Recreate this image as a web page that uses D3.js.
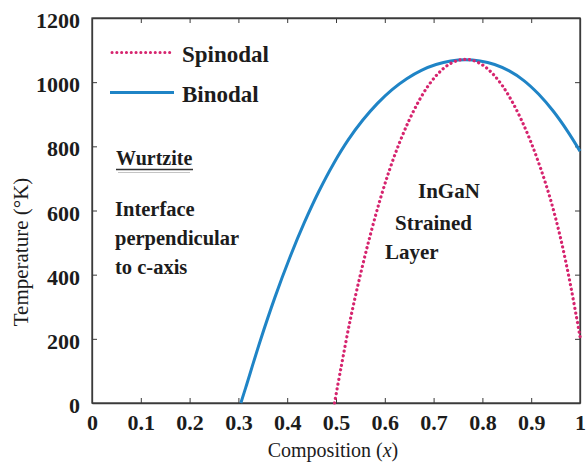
<!DOCTYPE html>
<html>
<head>
<meta charset="utf-8">
<script src="https://cdn.jsdelivr.net/npm/d3@7"></script>
<style>
  html, body { margin: 0; padding: 0; background: #ffffff; }
  svg { display: block; }
</style>
</head>
<body>
<svg id="chart" width="586" height="468"></svg>
<script>
// ---- data ----
const xTicks = [0, 0.1, 0.2, 0.3, 0.4, 0.5, 0.6, 0.7, 0.8, 0.9, 1];
const xTickLabels = ["0", "0.1", "0.2", "0.3", "0.4", "0.5", "0.6", "0.7", "0.8", "0.9", "1"];
const yTicks = [0, 200, 400, 600, 800, 1000, 1200];
const yTickLabels = ["0", "200", "400", "600", "800", "1000", "1200"];

const binodalX = [0.305, 0.315, 0.345, 0.375, 0.405, 0.435, 0.465, 0.495, 0.525, 0.555, 0.585, 0.615, 0.645, 0.675, 0.705, 0.735, 0.765, 0.795, 0.825, 0.855, 0.885, 0.915, 0.945, 0.975, 1.0];
const binodalT = [0, 48, 195, 330, 452, 562, 660, 746, 820, 882, 934, 977, 1011, 1037, 1055, 1066, 1070, 1066, 1055, 1035, 1005, 963, 910, 846, 785];

const spinodalX = [0.497, 0.51, 0.53, 0.55, 0.57, 0.59, 0.61, 0.63, 0.65, 0.67, 0.69, 0.71, 0.73, 0.75, 0.765, 0.78, 0.80, 0.82, 0.84, 0.86, 0.88, 0.90, 0.92, 0.94, 0.96, 0.98, 1.0];
const spinodalT = [0, 108, 265, 400, 522, 632, 728, 811, 882, 942, 991, 1028, 1054, 1068, 1071, 1068, 1054, 1028, 991, 942, 882, 811, 728, 632, 515, 372, 207];

const seriesNames = ["Spinodal", "Binodal"];
const xTitle = "Composition (";
const xTitleVar = "x";
const yTitle = "Temperature (°K)";
const noteLeft = ["Interface", "perpendicular", "to c-axis"];
const noteLeftTitle = "Wurtzite";
const noteRight = ["InGaN", "Strained", "Layer"];

// ---- layout ----
const svg = d3.select("#chart");
const L = 92, R = 580, T = 18, B = 403;
const FONT = "'Liberation Serif', 'Times New Roman', serif";
const INK = "#1c1c1c";
const AX = "#3a3a3a";
const SPIN = "#d6246e";
const BIN = "#1f84c6";

const x = d3.scaleLinear().domain([0, 1]).range([L, R]);
const y = d3.scaleLinear().domain([0, 1200]).range([B, T]);

// frame
svg.append("rect")
  .attr("x", L).attr("y", T).attr("width", R - L).attr("height", B - T)
  .attr("fill", "none").attr("stroke", AX).attr("stroke-width", 1.3);

// axes (ticks inward)
const gx = svg.append("g").attr("transform", `translate(0,${B})`)
  .call(d3.axisBottom(x).tickValues(xTicks).tickSizeInner(-5).tickSizeOuter(0)
    .tickFormat((d, i) => xTickLabels[i]));
gx.selectAll("text").attr("y", 27).attr("dy", 0)
  .attr("font-family", FONT).attr("font-size", 22).attr("font-weight", "bold").attr("fill", INK);

const gy = svg.append("g").attr("transform", `translate(${L},0)`)
  .call(d3.axisLeft(y).tickValues(yTicks).tickSizeInner(-5).tickSizeOuter(0)
    .tickFormat((d, i) => yTickLabels[i]));
gy.selectAll("text").attr("x", -12).attr("dy", 9.5)
  .attr("font-family", FONT).attr("font-size", 22).attr("font-weight", "bold").attr("fill", INK);

const gt = svg.append("g").attr("transform", `translate(0,${T})`)
  .call(d3.axisTop(x).tickValues(xTicks).tickSizeInner(-5).tickSizeOuter(0).tickFormat(""));
const gr = svg.append("g").attr("transform", `translate(${R},0)`)
  .call(d3.axisRight(y).tickValues(yTicks).tickSizeInner(-5).tickSizeOuter(0).tickFormat(""));

[gx, gy, gt, gr].forEach(g => {
  g.select(".domain").attr("stroke", AX).attr("stroke-width", 1.3);
  g.selectAll(".tick line").attr("stroke", AX).attr("stroke-width", 1);
});

// curves
const line = d3.line().x(d => x(d[0])).y(d => y(d[1])).curve(d3.curveCatmullRom.alpha(0.5));
const binodal = binodalX.map((v, i) => [v, binodalT[i]]);
const spinodal = spinodalX.map((v, i) => [v, spinodalT[i]]);

svg.append("path").datum(binodal).attr("d", line)
  .attr("fill", "none").attr("stroke", BIN).attr("stroke-width", 3);
svg.append("path").datum(spinodal).attr("d", line)
  .attr("fill", "none").attr("stroke", SPIN).attr("stroke-width", 3.2)
  .attr("stroke-linecap", "round").attr("stroke-dasharray", "0.1 4.7");

// legend
svg.append("line").attr("x1", 112).attr("x2", 173).attr("y1", 52.5).attr("y2", 52.5)
  .attr("stroke", SPIN).attr("stroke-width", 3).attr("stroke-linecap", "round")
  .attr("stroke-dasharray", "0.1 4.7");
svg.append("line").attr("x1", 110).attr("x2", 174).attr("y1", 92.5).attr("y2", 92.5)
  .attr("stroke", BIN).attr("stroke-width", 3);
svg.append("text").attr("x", 182).attr("y", 62).text(seriesNames[0])
  .attr("font-family", FONT).attr("font-size", 23).attr("font-weight", "bold").attr("fill", INK);
svg.append("text").attr("x", 182).attr("y", 102).text(seriesNames[1])
  .attr("font-family", FONT).attr("font-size", 23).attr("font-weight", "bold").attr("fill", INK);

// annotations
svg.append("text").attr("x", 116).attr("y", 165).text(noteLeftTitle)
  .attr("font-family", FONT).attr("font-size", 20).attr("font-weight", "bold").attr("fill", INK);
svg.append("line").attr("x1", 116).attr("x2", 193).attr("y1", 169.5).attr("y2", 169.5)
  .attr("stroke", "#333").attr("stroke-width", 1.5);
svg.append("line").attr("x1", 118).attr("x2", 190).attr("y1", 172.5).attr("y2", 172.5)
  .attr("stroke", "#c4c4c4").attr("stroke-width", 1);

noteLeft.forEach((t, i) => {
  svg.append("text").attr("x", 115).attr("y", 216 + i * 29).text(t)
    .attr("font-family", FONT).attr("font-size", 20.5).attr("font-weight", "bold").attr("fill", INK);
});
const noteRightX = [418, 395, 385];
const noteRightY = [198, 230, 259];
noteRight.forEach((t, i) => {
  svg.append("text").attr("x", noteRightX[i]).attr("y", noteRightY[i]).text(t)
    .attr("font-family", FONT).attr("font-size", 21).attr("font-weight", "bold").attr("fill", INK);
});

// axis titles
const xt = svg.append("text").attr("x", 333).attr("y", 457).attr("text-anchor", "middle")
  .attr("font-family", FONT).attr("font-size", 20).attr("fill", INK);
xt.append("tspan").text(xTitle);
xt.append("tspan").attr("font-style", "italic").text(xTitleVar);
xt.append("tspan").text(")");

svg.append("text").attr("transform", "translate(28,252) rotate(-90)")
  .attr("text-anchor", "middle").text(yTitle)
  .attr("font-family", FONT).attr("font-size", 21).attr("fill", INK);
</script>
</body>
</html>
